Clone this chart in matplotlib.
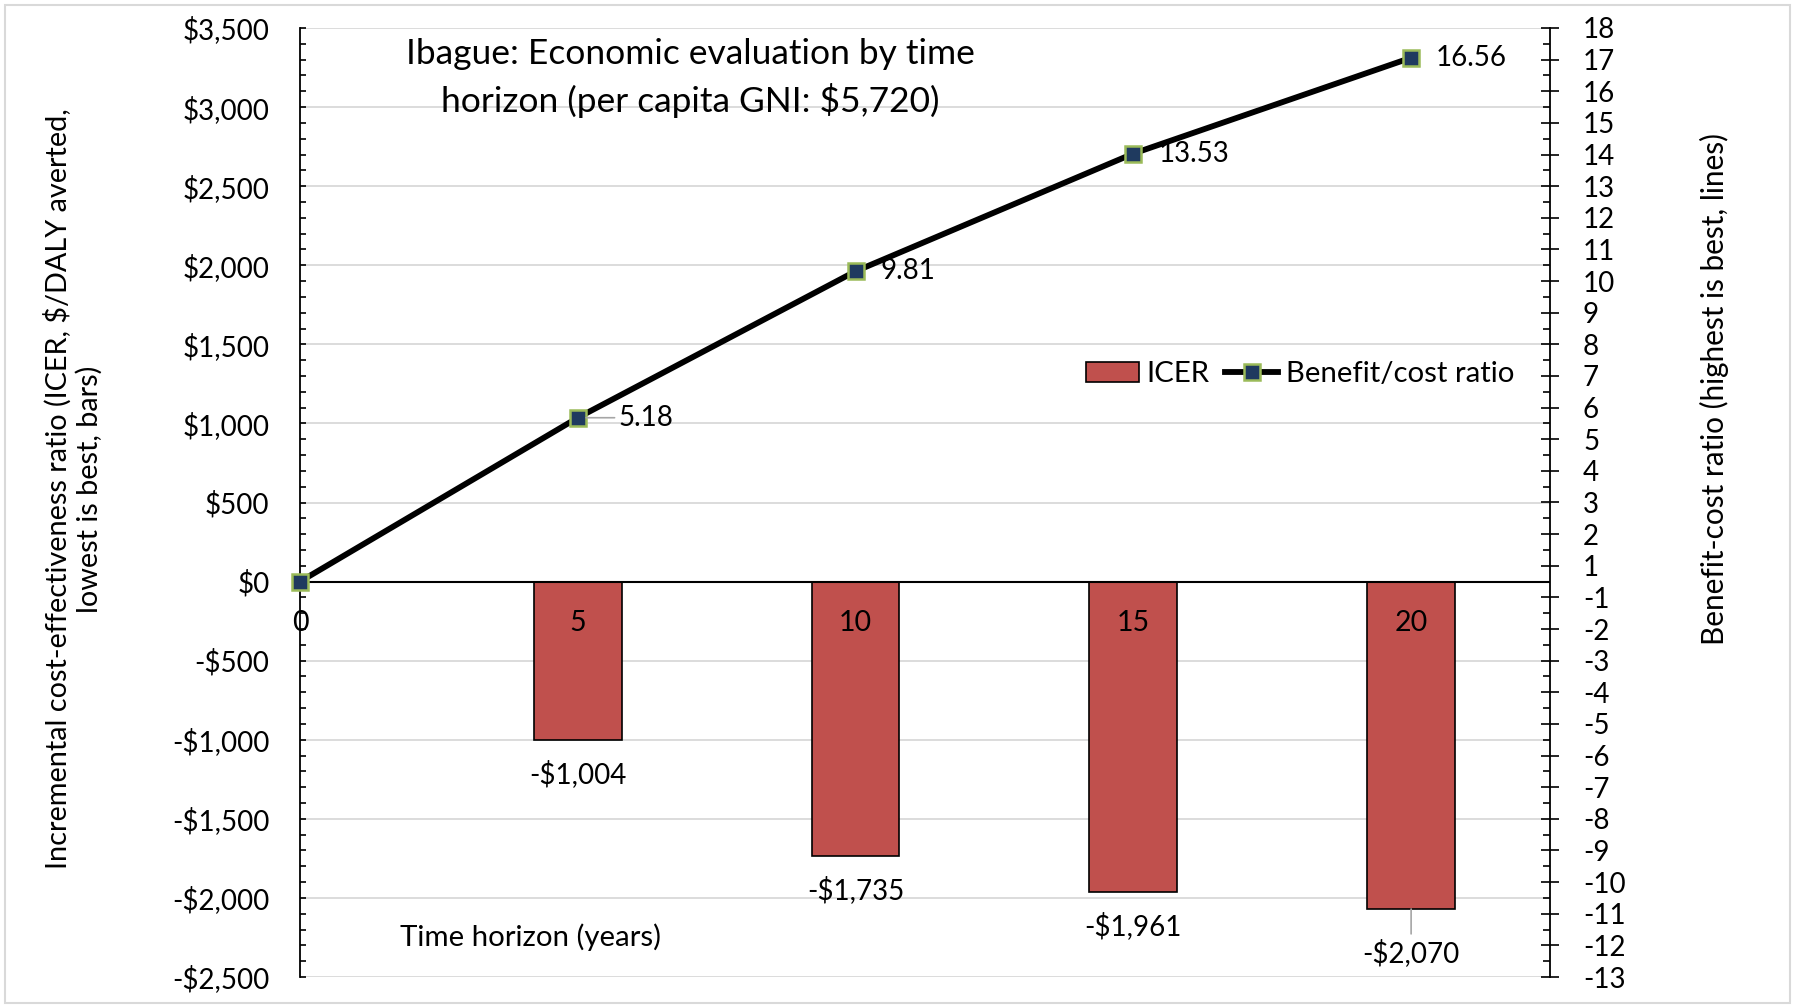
import matplotlib.pyplot as plt
import numpy as np
from matplotlib.patches import Rectangle, Patch
from matplotlib.lines import Line2D
from matplotlib.ticker import MultipleLocator, FuncFormatter

plt.rcParams['font.family'] = ['Lato', 'DejaVu Sans']

# time horizons (years)
years = [0, 5, 10, 15, 20]
bar_years = [5, 10, 15, 20]
# ICER in $/DALY averted (bars, left axis)
icer = [-1004, -1735, -1961, -2070]
# benefit/cost ratio (line, right axis)
bcr = [0, 5.18, 9.81, 13.53, 16.56]

title = 'Ibague: Economic evaluation by time\nhorizon (per capita GNI: $5,720)'
left_label = 'Incremental cost-effectiveness ratio (ICER, $/DALY averted,\nlowest is best, bars)'
right_label = 'Benefit-cost ratio (highest is best, lines)'
x_label = 'Time horizon (years)'

bar_color = '#c0504d'
marker_face = '#1f3a5f'
marker_edge = '#9bbb59'
grid_color = '#d9d9d9'


def money(v):
    sign = '-' if v < 0 else ''
    return f'{sign}${abs(v):,.0f}'


def round_away(v):
    # excel "0" format rounds halves away from zero
    return str(int(np.sign(v) * np.floor(abs(v) + 0.5)))


fig = plt.figure(figsize=(17.95, 10.08), dpi=100)
ax = fig.add_axes([300 / 1795, 31 / 1008, 1250 / 1795, 949 / 1008])
ax2 = ax.twinx()

ax.set_xlim(0, 22.5)
ax.set_ylim(-2500, 3500)
ax2.set_ylim(-12.5, 17.5)

# left axis: dollars
ax.set_axisbelow(True)
ax.yaxis.set_major_locator(MultipleLocator(500))
ax.yaxis.set_minor_locator(MultipleLocator(100))
ax.yaxis.set_major_formatter(FuncFormatter(lambda v, p: money(v)))
ax.grid(axis='y', color=grid_color, lw=1.3)
ax.tick_params(axis='y', which='both', direction='in', length=4.5, width=1.2,
               labelsize=20, pad=22)
ax.set_xticks([])
for s in ['top', 'bottom', 'right']:
    ax.spines[s].set_visible(False)
ax.spines['left'].set_linewidth(1.3)
ax.axhline(0, color='black', lw=1.5, zorder=3)

ax.bar(bar_years, icer, width=1.58, color=bar_color, edgecolor='black', lw=1.2, zorder=2)

# category labels sit just under the zero line
for yr in years:
    ax.annotate(str(yr), (yr, 0), xytext=(0, -30), textcoords='offset points',
                ha='center', va='center', fontsize=20.5, zorder=5)

for yr, v in zip(bar_years, icer):
    if yr == bar_years[-1]:
        ax.annotate(money(v), (yr, v), xytext=(0, -32), textcoords='offset points',
                    ha='center', va='center', fontsize=20,
                    arrowprops=dict(arrowstyle='-', color='#a6a6a6', lw=1.2,
                                    shrinkA=2, shrinkB=0))
    else:
        ax.annotate(money(v), (yr, v), xytext=(0, -24.5), textcoords='offset points',
                    ha='center', va='center', fontsize=20)

# right axis: benefit/cost ratio, ticks on the half units
right_ticks = np.arange(-12.5, 18, 1)
ax2.set_yticks(right_ticks)
ax2.set_yticklabels([round_away(t) for t in right_ticks])
ax2.yaxis.set_minor_locator(MultipleLocator(1))
ax2.tick_params(axis='y', which='major', direction='inout', length=13.5, width=1.2,
                labelsize=20, pad=17)
ax2.tick_params(axis='y', which='minor', direction='in', length=5, width=1.2)
for s in ['top', 'bottom', 'left']:
    ax2.spines[s].set_visible(False)
ax2.spines['right'].set_linewidth(1.3)

ax2.plot(years, bcr, color='black', lw=4.2, marker='s', ms=12, mfc=marker_face,
         mec=marker_edge, mew=1.8, zorder=3, clip_on=False)

for yr, v in zip(years[1:], bcr[1:]):
    if yr == 5:
        ax2.annotate(f'{v:.2f}', (yr, v), xytext=(29.5, 0), textcoords='offset points',
                     ha='left', va='center', fontsize=20,
                     arrowprops=dict(arrowstyle='-', color='#a6a6a6', lw=1.2,
                                     shrinkA=1, shrinkB=6))
    else:
        ax2.annotate(f'{v:.2f}', (yr, v), xytext=(18, 0), textcoords='offset points',
                     ha='left', va='center', fontsize=20)

handles = [Patch(fc=bar_color, ec='black', lw=1.2),
           Line2D([], [], color='black', lw=4.2, marker='s', ms=12, mfc=marker_face,
                  mec=marker_edge, mew=1.8)]
ax2.legend(handles, ['ICER', 'Benefit/cost ratio'], loc='center',
           bbox_to_anchor=(0.8, 0.635), ncol=2, frameon=False, fontsize=21.2,
           handlelength=1.8, handleheight=0.65, handletextpad=0.25, columnspacing=0.55)

fig.text(690 / 1795, (1008 - 78) / 1008, title, ha='center', va='center',
         fontsize=25.5, linespacing=1.45)
fig.text(531 / 1795, (1008 - 937.6) / 1008, x_label, ha='center', va='center',
         fontsize=21.2)
fig.text(73 / 1795, (1008 - 489) / 1008, left_label, rotation=90, ha='center', va='center',
         fontsize=20.8, multialignment='center', linespacing=1.2)
fig.text(1714 / 1795, (1008 - 389) / 1008, right_label, rotation=90, ha='center',
         va='center', fontsize=21.4)

fig.add_artist(Rectangle((5 / 1795, 5 / 1008), 1785 / 1795, 998 / 1008,
                         transform=fig.transFigure, fill=False, ec=grid_color, lw=1.5))

fig.savefig('out.png', dpi=100)
